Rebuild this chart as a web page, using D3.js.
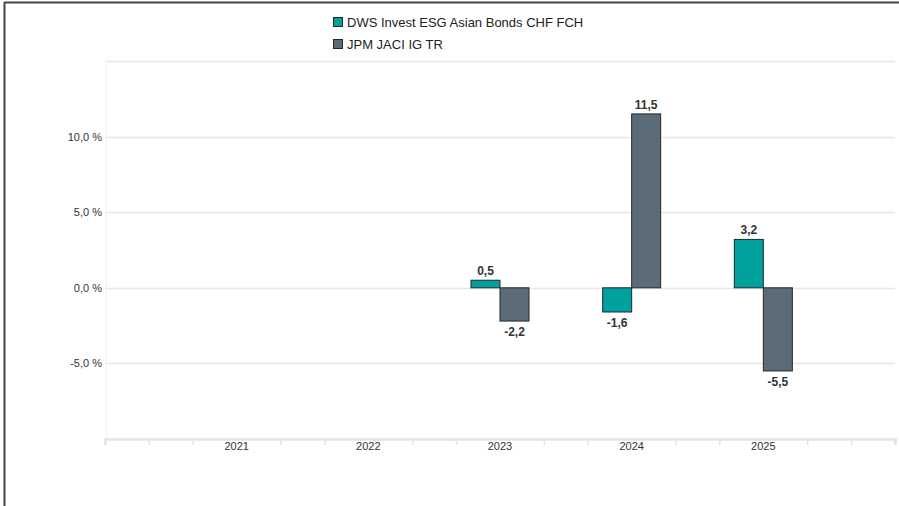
<!DOCTYPE html>
<html><head><meta charset="utf-8">
<script src="https://cdn.jsdelivr.net/npm/d3@7"></script>
<style>
html,body{margin:0;padding:0;background:#fff;}
svg{display:block;font-family:"Liberation Sans",Arial,sans-serif;}
</style></head>
<body>
<svg id="c" width="899" height="506"></svg>
<script>
const categories = ["2021","2022","2023","2024","2025"];
const seriesNames = ["DWS Invest ESG Asian Bonds CHF FCH","JPM JACI IG TR"];
const fundValues = [null, null, 0.5, -1.6, 3.2];
const benchValues = [null, null, -2.2, 11.5, -5.5];
const yTicks = [15, 10, 5, 0, -5];
const yTickLabels = ["", "10,0 %", "5,0 %", "0,0 %", "-5,0 %"];
const colors = ["#00a09d", "#5b6b77"];

const svg = d3.select("#c");
// frame
svg.append("line").attr("x1",4.5).attr("x2",4.5).attr("y1",2).attr("y2",506).attr("stroke","#444").attr("stroke-width",2);
svg.append("line").attr("x1",4).attr("x2",899).attr("y1",2.5).attr("y2",2.5).attr("stroke","#444").attr("stroke-width",2);

const left = 105, right = 895;
// linear position axis from 2020 to 2026
const x = d3.scaleLinear().domain([2020, 2026]).range([left, right]);
const y = d3.scaleLinear().domain([-10, 15]).range([439, 61]);

// gridlines
svg.append("g").selectAll("line").data(yTicks).join("line")
  .attr("x1", left).attr("x2", right)
  .attr("y1", d => Math.round(y(d)) + 0.5).attr("y2", d => Math.round(y(d)) + 0.5)
  .attr("stroke", "#e6e6e6").attr("stroke-width", 1.5);
svg.append("line").attr("x1", left+1.5).attr("x2", left+1.5).attr("y1", y(15)).attr("y2", y(-10))
  .attr("stroke", "#f3f3f3").attr("stroke-width", 1);

// y labels
svg.append("g").selectAll("text").data(yTicks).join("text")
  .attr("x", left - 3).attr("y", d => y(d) + 4)
  .attr("text-anchor", "end").attr("font-size", 11).attr("fill", "#333")
  .text((d,i) => yTickLabels[i]);

// x axis
const minor = d3.range(0, 19).map(i => 2020 + i/3);
const catPos = categories.map(c => +c);
const xAxis = d3.axisBottom(x).tickValues(minor.filter(v => !catPos.some(c => Math.abs(c - v) < 1e-6))).tickSize(6).tickFormat("");
const ga = svg.append("g").attr("transform", `translate(0,${y(-10)})`).call(xAxis);
ga.select(".domain").attr("stroke", "#e3e3e3").attr("stroke-width", 2.5);
ga.selectAll(".tick line").attr("stroke", "#e3e3e3").attr("stroke-width", 1.5);
svg.append("g").selectAll("text").data(categories).join("text")
  .attr("x", d => x(+d)).attr("y", y(-10) + 11)
  .attr("text-anchor", "middle").attr("font-size", 11).attr("fill", "#333")
  .text(d => d);

// bars
const bw = 29;
const series = [fundValues, benchValues];
series.forEach((vals, si) => {
  const data = categories.map((c, i) => ({c, v: vals[i]})).filter(d => d.v != null);
  const g = svg.append("g");
  g.selectAll("rect").data(data).join("rect")
    .attr("x", d => x(+d.c) + (si === 0 ? -bw : 0))
    .attr("width", bw)
    .attr("y", d => y(Math.max(0, d.v)))
    .attr("height", d => Math.abs(y(d.v) - y(0)))
    .attr("fill", colors[si]).attr("stroke", "#1f2a2e").attr("stroke-width", 1);
  g.selectAll("text").data(data).join("text")
    .attr("x", d => x(+d.c) + (si === 0 ? -bw/2 : bw/2))
    .attr("y", d => d.v >= 0 ? y(d.v) - 5 : y(d.v) + 15)
    .attr("text-anchor", "middle").attr("font-size", 12).attr("font-weight", "bold").attr("fill", "#333")
    .text(d => d3.format(".1f")(d.v).replace(".", ",").replace("−","-"));
});

// legend
const lg = svg.append("g");
seriesNames.forEach((n, i) => {
  const yy = 17 + i * 22;
  lg.append("rect").attr("x", 333.5).attr("y", yy + 0.5).attr("width", 9).attr("height", 9)
    .attr("fill", colors[i]).attr("stroke", "#1f2a2e").attr("stroke-width", 1);
  lg.append("text").attr("x", 347).attr("y", yy + 9.5).attr("font-size", 13).attr("fill", "#222").text(n);
});
</script>
</body></html>
